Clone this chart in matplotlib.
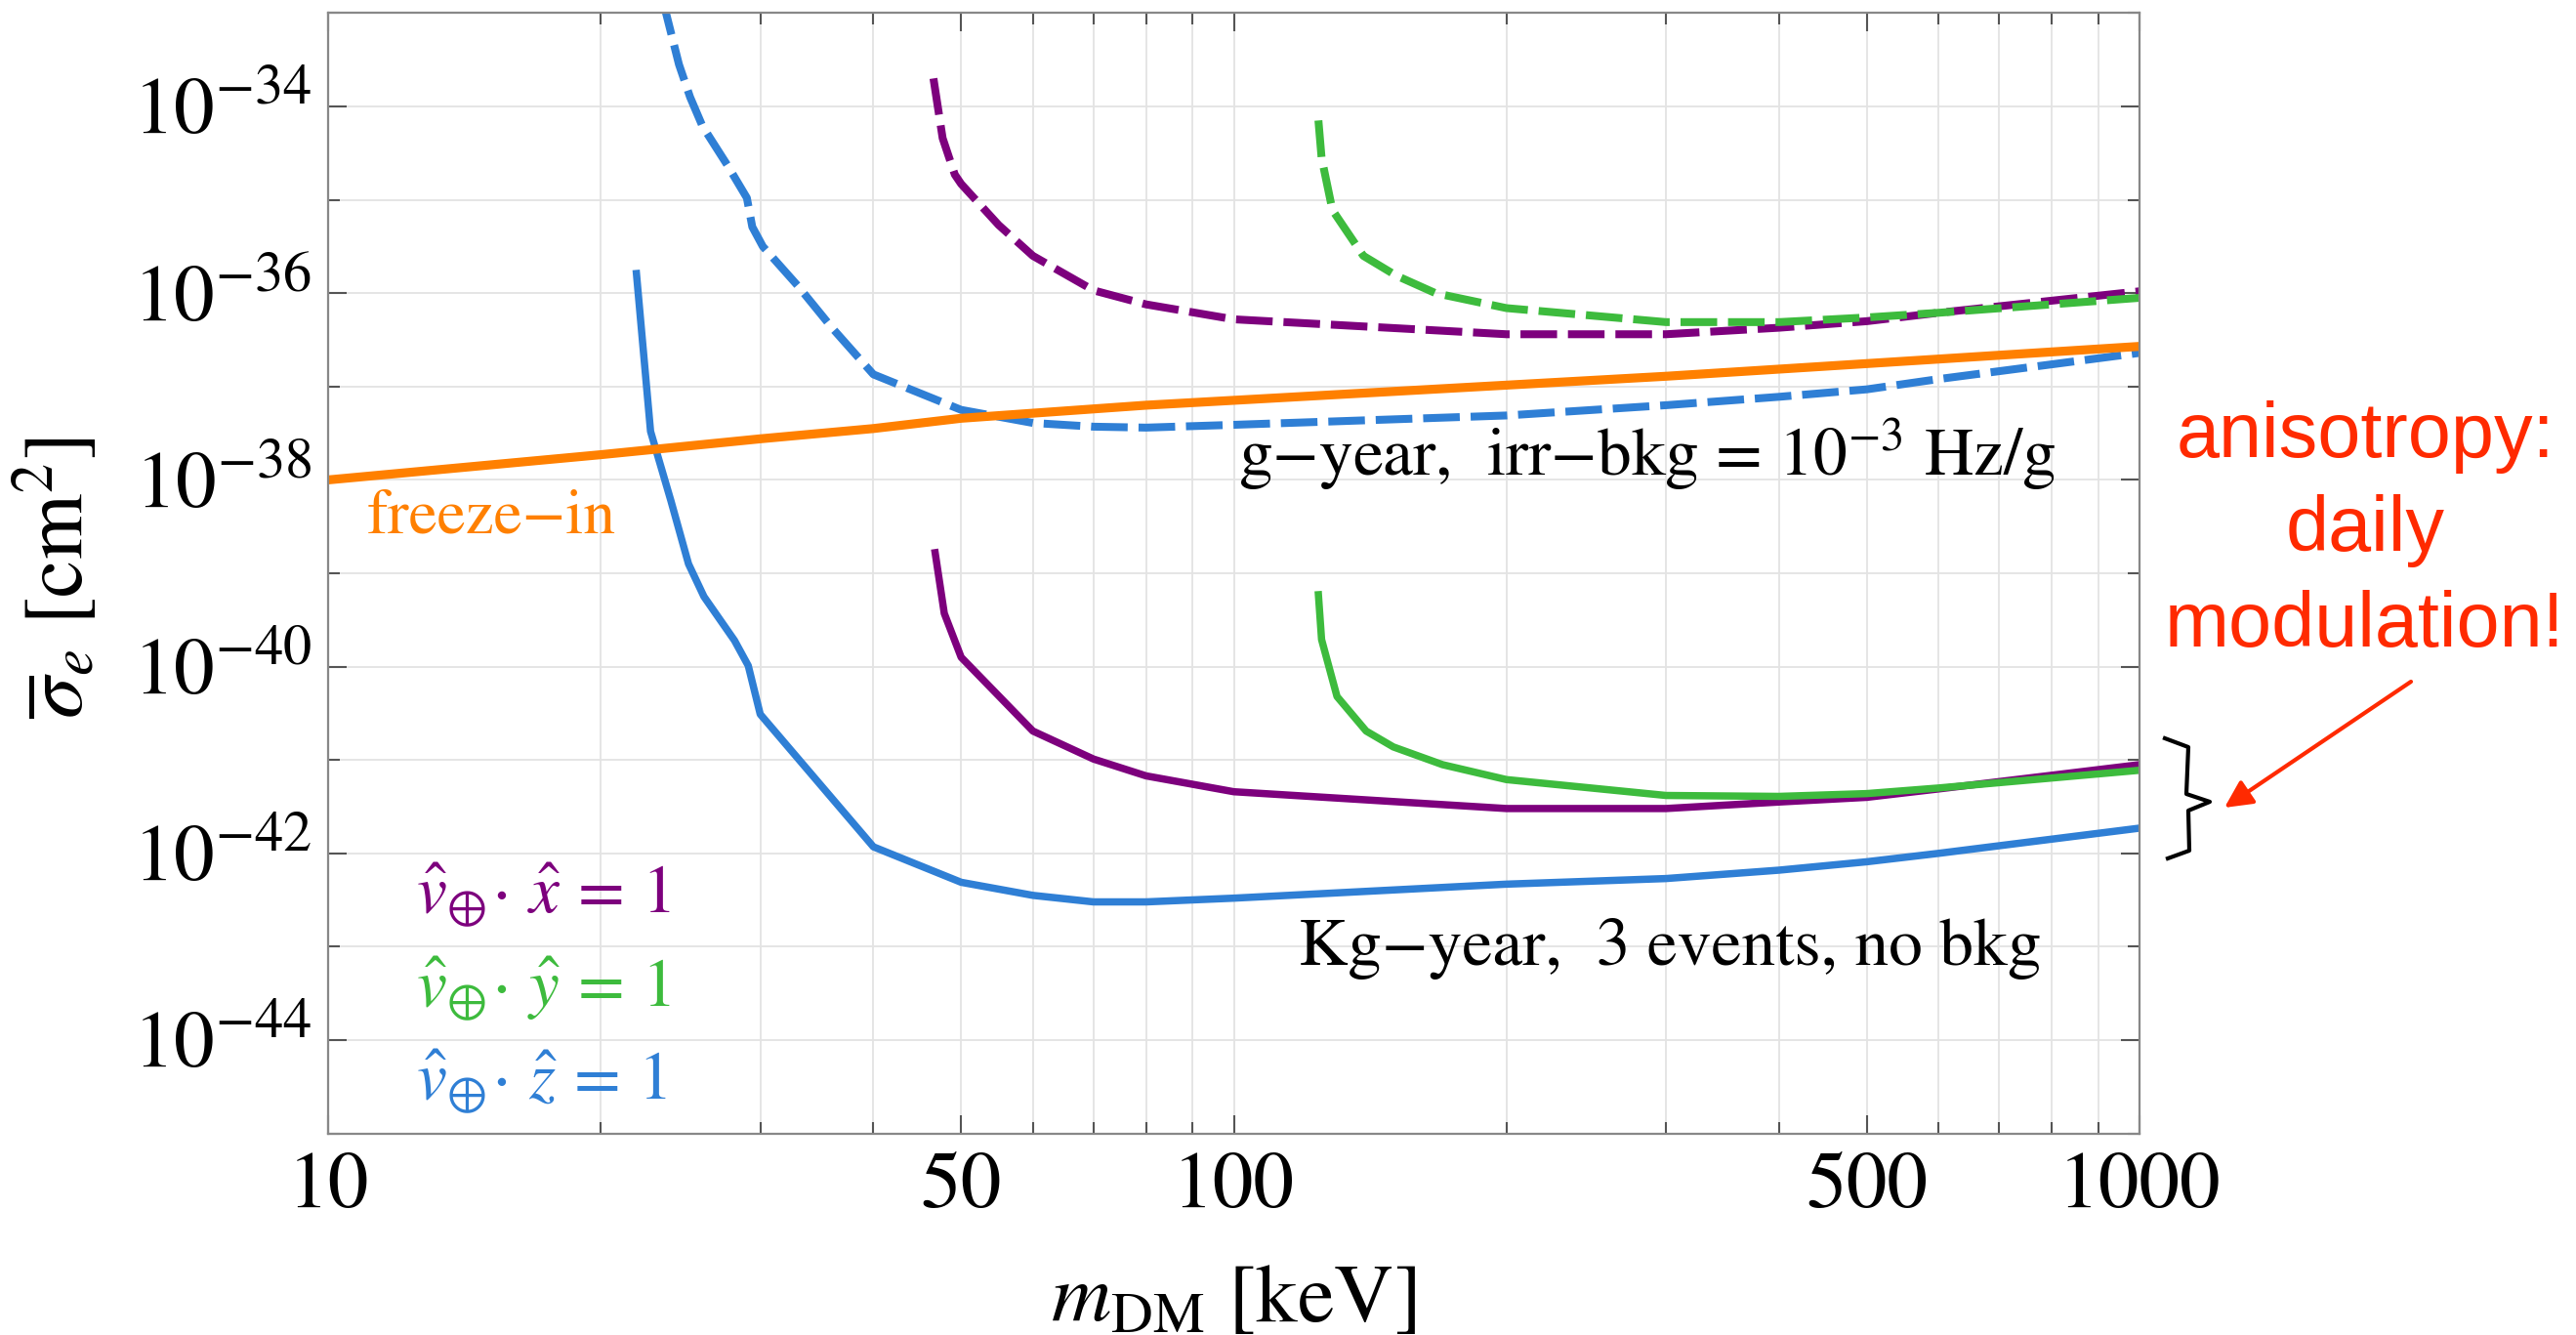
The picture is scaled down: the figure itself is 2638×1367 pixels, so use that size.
import numpy as np
import matplotlib
matplotlib.use('Agg')
import matplotlib.pyplot as plt
from matplotlib.ticker import FixedLocator, FixedFormatter, NullFormatter
from matplotlib.lines import Line2D
from matplotlib.patches import FancyArrowPatch

plt.rcParams['font.family'] = 'STIXGeneral'
plt.rcParams['mathtext.fontset'] = 'stix'
plt.rcParams['lines.scale_dashes'] = False

# DM mass [keV] and log10 of the reach in sigma_e [cm^2]
# Kg-year exposure, 3 events, no background (solid)
m_x_kg = [46.8, 47.9, 50, 60, 70, 80, 100, 200, 300, 400, 500, 600, 1000]
s_x_kg = [-38.78, -39.43, -39.90, -40.69, -40.99, -41.17, -41.34, -41.52, -41.52, -41.45, -41.40, -41.31, -41.05]

m_y_kg = [124, 125, 130, 140, 150, 170, 200, 300, 400, 500, 600, 1000]
s_y_kg = [-39.23, -39.71, -40.32, -40.69, -40.86, -41.05, -41.21, -41.38, -41.39, -41.36, -41.30, -41.11]

m_z_kg = [21.9, 22.7, 23.9, 25.0, 26.0, 28.1, 29.1, 30.0, 40, 50, 60, 70, 80, 100, 200, 300, 400, 500, 600, 1000]
s_z_kg = [-35.79, -37.48, -38.22, -38.90, -39.25, -39.72, -39.99, -40.51, -41.93, -42.31, -42.45, -42.52, -42.52, -42.48,
          -42.33, -42.27, -42.18, -42.09, -42.00, -41.73]

# g-year exposure, irreducible background 1e-3 Hz/g (dashed)
m_x_g = [46.6, 47.7, 49.2, 50, 55, 60, 70, 80, 100, 200, 300, 400, 500, 600, 1000]
s_x_g = [-33.70, -34.34, -34.73, -34.83, -35.27, -35.60, -35.97, -36.12, -36.28, -36.44, -36.44, -36.37, -36.30, -36.21, -35.98]

m_y_g = [124, 125, 128.5, 139, 151, 167, 200, 300, 400, 500, 600, 1000]
s_y_g = [-34.15, -34.55, -35.11, -35.60, -35.81, -36.00, -36.16, -36.31, -36.31, -36.26, -36.21, -36.05]

m_z_g = [23.4, 24.4, 25.1, 25.9, 27.6, 29.0, 29.4, 30.2, 33.0, 36.0, 40, 50, 60, 70, 80, 100, 200, 300, 400, 500, 600, 1000]
s_z_g = [-32.85, -33.55, -33.90, -34.21, -34.63, -34.98, -35.29, -35.50, -35.92, -36.37, -36.87, -37.25, -37.39, -37.43,
         -37.44, -37.41, -37.31, -37.20, -37.11, -37.03, -36.92, -36.64]

# freeze-in target
m_fi = [10, 20, 30, 40, 50, 80, 300, 1000]
s_fi = [-38.00, -37.73, -37.56, -37.45, -37.34, -37.20, -36.89, -36.57]

x_ticks = [10, 50, 100, 500, 1000]
x_ticklabels = ['10', '50', '100', '500', '1000']
x_minor = [20, 30, 40, 60, 70, 80, 90, 200, 300, 400, 600, 700, 800, 900]
y_exps = [-44, -42, -40, -38, -36, -34]
y_minor_exps = [-45, -43, -41, -39, -37, -35, -33]

purple = '#7d007d'
green = '#3dbb3d'
blue = '#2f7fd5'
orange = '#ff8000'
red = '#ff2a00'

W, H = 2638, 1367
fig = plt.figure(figsize=(W / 100, H / 100), dpi=100)
ax = fig.add_axes([336 / W, 1 - 1160.6 / H, (2191 - 336) / W, (1160.6 - 13.4) / H])

dash = (27, 8)
ax.plot(m_x_g, 10.0 ** np.array(s_x_g), color=purple, lw=5.8, dashes=dash)
ax.plot(m_y_g, 10.0 ** np.array(s_y_g), color=green, lw=5.8, dashes=dash)
ax.plot(m_z_g, 10.0 ** np.array(s_z_g), color=blue, lw=5.8, dashes=dash)
ax.plot(m_x_kg, 10.0 ** np.array(s_x_kg), color=purple, lw=5.4)
ax.plot(m_y_kg, 10.0 ** np.array(s_y_kg), color=green, lw=5.4)
ax.plot(m_z_kg, 10.0 ** np.array(s_z_kg), color=blue, lw=5.4)
ax.plot(m_fi, 10.0 ** np.array(s_fi), color=orange, lw=6.6)

ax.set_xscale('log')
ax.set_yscale('log')
ax.set_xlim(10, 1000)
ax.set_ylim(1e-45, 1e-33)

ax.xaxis.set_major_locator(FixedLocator(x_ticks))
ax.xaxis.set_major_formatter(FixedFormatter(x_ticklabels))
ax.xaxis.set_minor_locator(FixedLocator(x_minor))
ax.xaxis.set_minor_formatter(NullFormatter())
ax.yaxis.set_major_locator(FixedLocator([10.0 ** e for e in y_exps]))
ax.yaxis.set_major_formatter(FixedFormatter([r'$10^{%d}$' % e for e in y_exps]))
ax.yaxis.set_minor_locator(FixedLocator([10.0 ** e for e in y_minor_exps]))
ax.yaxis.set_minor_formatter(NullFormatter())

ax.grid(True, which='both', color='#e3e3e3', lw=1.3)
ax.set_axisbelow(True)
ax.tick_params(which='both', direction='in', top=True, right=True, color='#555555', width=1.5)
ax.tick_params(which='major', length=13.5, labelsize=60)
ax.tick_params(which='minor', length=8.5)
ax.tick_params(axis='x', pad=14)
ax.tick_params(axis='y', pad=12)
for sp in ax.spines.values():
    sp.set_color('#888888')
    sp.set_linewidth(1.6)

ax.set_xlabel(r'$m_{\rm DM}$ [keV]', fontsize=61)
ax.xaxis.set_label_coords(0.5, -0.117)
ax.set_ylabel(r'$\overline{\sigma}_e$ [cm$^2$]', fontsize=62)
ax.yaxis.set_label_coords(-0.125, 0.496)

ax.text(11.04, 10 ** -38.57, 'freeze\u2212in', color=orange, fontsize=47, va='baseline')
ax.text(101, 10 ** -37.95, 'g\u2212year,  irr\u2212bkg = 10$^{\u22123}$ Hz/g', fontsize=50, va='baseline')
ax.text(118, 10 ** -43.19, 'Kg\u2212year,  3 events, no bkg', fontsize=50, va='baseline')

ax.text(12.5, 10 ** -42.63, r'$\hat{v}_{\oplus}\!\cdot\,\hat{x}\,=\,1$', color=purple, fontsize=50, va='baseline')
ax.text(12.5, 10 ** -43.63, r'$\hat{v}_{\oplus}\!\cdot\,\hat{y}\,=\,1$', color=green, fontsize=50, va='baseline')
ax.text(12.5, 10 ** -44.63, r'$\hat{v}_{\oplus}\!\cdot\,\hat{z}\,=\,1$', color=blue, fontsize=50, va='baseline')

# note on the right of the frame
for line, yb in [('anisotropy:', 468), ('daily', 564), ('modulation!', 662)]:
    fig.text(2422 / W, 1 - yb / H, line, color=red, fontsize=57, family='Liberation Sans',
             ha='center', va='baseline')

bx = np.array([2217, 2241, 2239, 2263, 2241, 2242, 2220])
by = np.array([756, 765, 813, 821, 830, 871, 879])
fig.add_artist(Line2D(bx / W, 1 - by / H, transform=fig.transFigure, color='k', lw=3))

arrow = FancyArrowPatch((2469 / W, 1 - 698 / H), (2278 / W, 1 - 827 / H), transform=fig.transFigure,
                        arrowstyle='-|>,head_length=1.0,head_width=0.5', mutation_scale=17,
                        color=red, lw=3, shrinkA=0, shrinkB=0)
fig.add_artist(arrow)

fig.savefig('out.png', dpi=100)
